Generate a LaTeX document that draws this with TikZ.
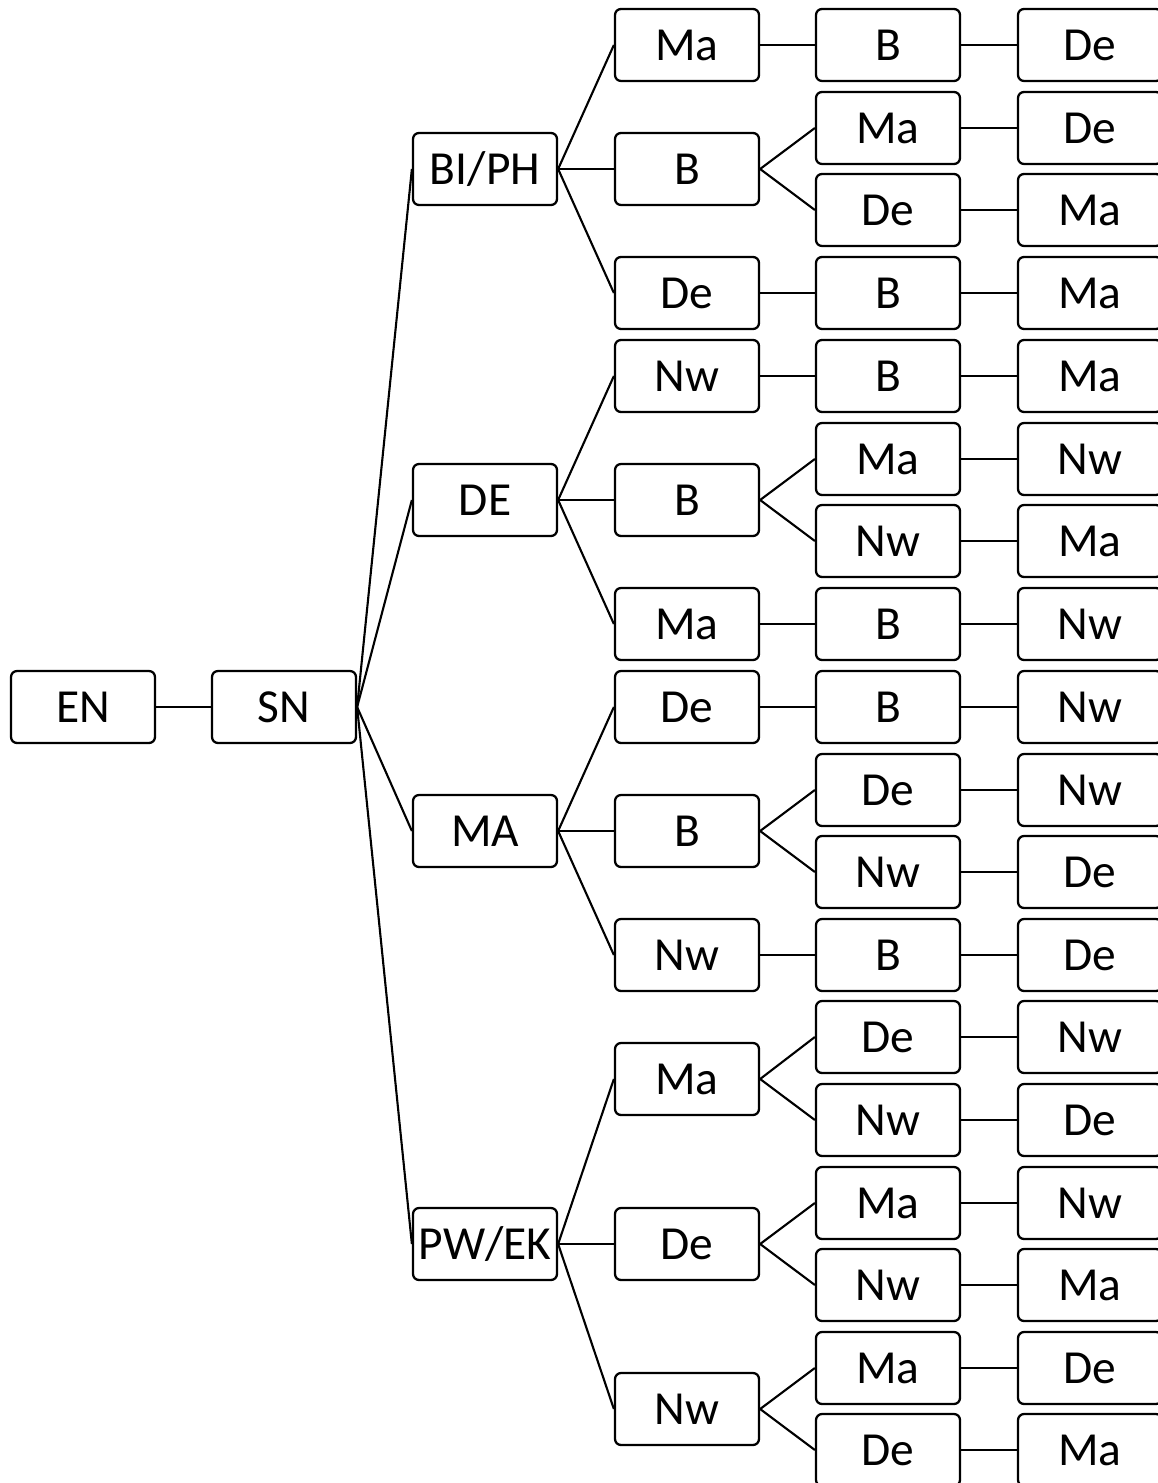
\documentclass[tikz,border=0pt]{standalone}
\usepackage{fontspec}
\setmainfont{Carlito}
\tikzset{
  box/.style={draw, line width=1.3pt, rounded corners=0.12cm, minimum width=2.88cm,
    minimum height=1.44cm, inner sep=0pt, font=\fontsize{27}{32}\selectfont},
  link/.style={line width=1.2pt}
}
\begin{document}
\begin{tikzpicture}[x=0.02cm, y=-0.02cm]
        \useasboundingbox (0,0) rectangle (1158,1483);
        \clip (0,0) rectangle (1158,1483);
        % first two levels
        \node[box] (EN) at (83,707) {EN};
        \node[box] (SN) at (284,707) {SN};
        \node[box] (BP) at (485,169) {BI/PH};
        \node[box] (DE) at (485,500) {DE};
        \node[box] (MA) at (485,831) {MA};
        \node[box] (PE) at (485,1244) {PW/EK};

        % third level
        \node[box] (a1) at (687,45) {Ma};
        \node[box] (a2) at (687,169) {B};
        \node[box] (a3) at (687,293) {De};
        \node[box] (a4) at (687,376) {Nw};
        \node[box] (a5) at (687,500) {B};
        \node[box] (a6) at (687,624) {Ma};
        \node[box] (a7) at (687,707) {De};
        \node[box] (a8) at (687,831) {B};
        \node[box] (a9) at (687,955) {Nw};
        \node[box] (a10) at (687,1079) {Ma};
        \node[box] (a11) at (687,1244) {De};
        \node[box] (a12) at (687,1409) {Nw};

        % fourth level
        \node[box] (b1) at (888,45) {B};
        \node[box] (b2) at (888,128) {Ma};
        \node[box] (b3) at (888,210) {De};
        \node[box] (b4) at (888,293) {B};
        \node[box] (b5) at (888,376) {B};
        \node[box] (b6) at (888,459) {Ma};
        \node[box] (b7) at (888,541) {Nw};
        \node[box] (b8) at (888,624) {B};
        \node[box] (b9) at (888,707) {B};
        \node[box] (b10) at (888,790) {De};
        \node[box] (b11) at (888,872) {Nw};
        \node[box] (b12) at (888,955) {B};
        \node[box] (b13) at (888,1037) {De};
        \node[box] (b14) at (888,1120) {Nw};
        \node[box] (b15) at (888,1203) {Ma};
        \node[box] (b16) at (888,1285) {Nw};
        \node[box] (b17) at (888,1368) {Ma};
        \node[box] (b18) at (888,1450) {De};

        % last level
        \node[box] (c1) at (1090,45) {De};
        \node[box] (c2) at (1090,128) {De};
        \node[box] (c3) at (1090,210) {Ma};
        \node[box] (c4) at (1090,293) {Ma};
        \node[box] (c5) at (1090,376) {Ma};
        \node[box] (c6) at (1090,459) {Nw};
        \node[box] (c7) at (1090,541) {Ma};
        \node[box] (c8) at (1090,624) {Nw};
        \node[box] (c9) at (1090,707) {Nw};
        \node[box] (c10) at (1090,790) {Nw};
        \node[box] (c11) at (1090,872) {De};
        \node[box] (c12) at (1090,955) {De};
        \node[box] (c13) at (1090,1037) {Nw};
        \node[box] (c14) at (1090,1120) {De};
        \node[box] (c15) at (1090,1203) {Nw};
        \node[box] (c16) at (1090,1285) {Ma};
        \node[box] (c17) at (1090,1368) {De};
        \node[box] (c18) at (1090,1450) {Ma};

        \draw[link] (EN.east) -- (SN.west);
        \draw[link] (SN.east) -- (BP.west);
        \draw[link] (SN.east) -- (DE.west);
        \draw[link] (SN.east) -- (MA.west);
        \draw[link] (SN.east) -- (PE.west);

        \draw[link] (BP.east) -- (a1.west);
        \draw[link] (BP.east) -- (a2.west);
        \draw[link] (BP.east) -- (a3.west);
        \draw[link] (DE.east) -- (a4.west);
        \draw[link] (DE.east) -- (a5.west);
        \draw[link] (DE.east) -- (a6.west);
        \draw[link] (MA.east) -- (a7.west);
        \draw[link] (MA.east) -- (a8.west);
        \draw[link] (MA.east) -- (a9.west);
        \draw[link] (PE.east) -- (a10.west);
        \draw[link] (PE.east) -- (a11.west);
        \draw[link] (PE.east) -- (a12.west);

        \draw[link] (a1.east) -- (b1.west);
        \draw[link] (a2.east) -- (b2.west);
        \draw[link] (a2.east) -- (b3.west);
        \draw[link] (a3.east) -- (b4.west);
        \draw[link] (a4.east) -- (b5.west);
        \draw[link] (a5.east) -- (b6.west);
        \draw[link] (a5.east) -- (b7.west);
        \draw[link] (a6.east) -- (b8.west);
        \draw[link] (a7.east) -- (b9.west);
        \draw[link] (a8.east) -- (b10.west);
        \draw[link] (a8.east) -- (b11.west);
        \draw[link] (a9.east) -- (b12.west);
        \draw[link] (a10.east) -- (b13.west);
        \draw[link] (a10.east) -- (b14.west);
        \draw[link] (a11.east) -- (b15.west);
        \draw[link] (a11.east) -- (b16.west);
        \draw[link] (a12.east) -- (b17.west);
        \draw[link] (a12.east) -- (b18.west);

        \draw[link] (b1.east) -- (c1.west);
        \draw[link] (b2.east) -- (c2.west);
        \draw[link] (b3.east) -- (c3.west);
        \draw[link] (b4.east) -- (c4.west);
        \draw[link] (b5.east) -- (c5.west);
        \draw[link] (b6.east) -- (c6.west);
        \draw[link] (b7.east) -- (c7.west);
        \draw[link] (b8.east) -- (c8.west);
        \draw[link] (b9.east) -- (c9.west);
        \draw[link] (b10.east) -- (c10.west);
        \draw[link] (b11.east) -- (c11.west);
        \draw[link] (b12.east) -- (c12.west);
        \draw[link] (b13.east) -- (c13.west);
        \draw[link] (b14.east) -- (c14.west);
        \draw[link] (b15.east) -- (c15.west);
        \draw[link] (b16.east) -- (c16.west);
        \draw[link] (b17.east) -- (c17.west);
        \draw[link] (b18.east) -- (c18.west);
      \end{tikzpicture}
\end{document}
